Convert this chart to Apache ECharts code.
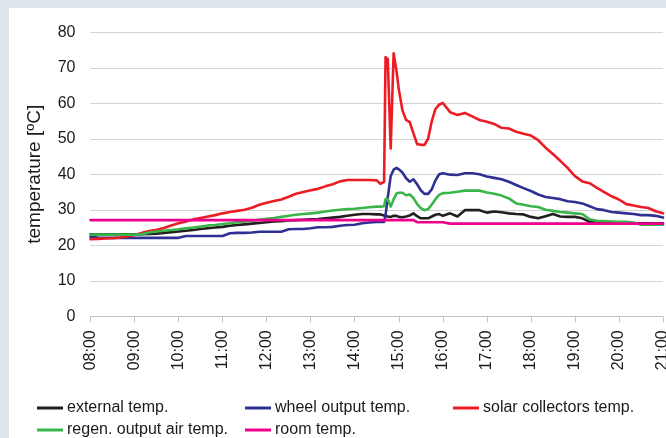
<!DOCTYPE html>
<html>
<head>
<meta charset="utf-8">
<script src="https://cdn.jsdelivr.net/npm/echarts@6/dist/echarts.min.js"></script>
<style>
html, body { margin: 0; padding: 0; background: #dde6ed; overflow: hidden; }
#chart { position: absolute; left: 9px; top: 8px; width: 690px; height: 430px; background: #fff; }
</style>
</head>
<body>
<div id="chart"></div>
<script>
// sample times (10 min, 5 min around the collector spike)
const times = [
  '08:00', '08:10', '08:20', '08:30', '08:40', '08:50',
  '09:00', '09:10', '09:20', '09:30', '09:40', '09:50',
  '10:00', '10:10', '10:20', '10:30', '10:40', '10:50',
  '11:00', '11:10', '11:20', '11:30', '11:40', '11:50',
  '12:00', '12:10', '12:20', '12:30', '12:40', '12:50',
  '13:00', '13:10', '13:20', '13:30', '13:40', '13:50',
  '14:00', '14:10', '14:20', '14:30',
  '14:35', '14:40', '14:42', '14:45', '14:49', '14:53', '14:57', '15:00', '15:05', '15:10',
  '15:15', '15:20', '15:25', '15:30', '15:35', '15:40', '15:45', '15:50', '15:55', '16:00',
  '16:10', '16:20', '16:30', '16:40', '16:50',
  '17:00', '17:10', '17:20', '17:30', '17:40', '17:50',
  '18:00', '18:10', '18:20', '18:30', '18:40', '18:50',
  '19:00', '19:10', '19:20', '19:30', '19:40', '19:50',
  '20:00', '20:10', '20:20', '20:30', '20:40', '20:50',
  '21:00'
];

const externalTemp = [
  23.1, 23.1, 23.1, 23.1, 23.1, 23.1,
  23.1, 23.1, 23.2, 23.3, 23.5, 23.7,
  23.9, 24.1, 24.3, 24.6, 24.8, 25.0,
  25.2, 25.5, 25.7, 25.9, 26.1, 26.3,
  26.5, 26.7, 26.8, 27.0, 27.1, 27.2,
  27.3, 27.4, 27.6, 27.8, 28.0, 28.3,
  28.6, 28.8, 28.8, 28.7,
  28.7, 28.4, 28.0, 28.1, 28.0, 28.3, 28.3, 28.0, 27.9, 28.1,
  28.4, 29.0, 28.2, 27.6, 27.6, 27.6, 28.1, 28.6, 28.8, 28.3,
  29.0, 28.1, 29.9, 29.9, 29.9,
  29.2, 29.5, 29.3, 29.0, 28.8, 28.7,
  28.0, 27.6, 28.2, 28.8, 28.1, 28.0,
  28.0, 27.6, 26.6, 26.3, 26.2, 26.2,
  26.2, 26.2, 26.2, 26.2, 26.2, 26.2,
  26.2
];

const wheelTemp = [
  22.4, 22.2, 22.1, 22.1, 22.1, 22.1,
  22.1, 22.1, 22.1, 22.1, 22.1, 22.1,
  22.1, 22.6, 22.6, 22.6, 22.6, 22.6,
  22.6, 23.4, 23.5, 23.5, 23.6, 23.8,
  23.8, 23.8, 23.8, 24.5, 24.6, 24.6,
  24.8, 25.1, 25.1, 25.2, 25.5, 25.7,
  25.8, 26.2, 26.4, 26.6,
  26.6, 26.6, 28.5, 33.5, 39.5, 41.3, 41.8, 41.4, 40.5, 38.9,
  37.9, 38.6, 37.2, 35.5, 34.5, 34.5, 35.8, 38.3, 40.0, 40.3,
  39.9, 39.8, 40.3, 40.3, 40.0,
  39.4, 39.0, 38.6, 37.9, 37.0, 36.1,
  35.3, 34.3, 33.6, 33.3, 33.0, 32.4,
  32.2, 31.8, 31.0, 30.2, 29.9, 29.4,
  29.2, 29.0, 28.8, 28.5, 28.5, 28.3,
  27.8
];

const solarTemp = [
  21.7, 21.8, 21.9, 22.0, 22.2, 22.5,
  22.9, 23.5, 24.0, 24.4, 24.9, 25.6,
  26.2, 26.7, 27.3, 27.7, 28.1, 28.5,
  29.0, 29.4, 29.7, 30.0, 30.6, 31.4,
  32.0, 32.5, 32.9, 33.7, 34.5, 35.0,
  35.5, 35.9, 36.6, 37.2, 38.0, 38.4,
  38.4, 38.4, 38.4, 38.3,
  37.3, 37.9, 73.0, 72.5, 47.3, 74.1, 69.0, 64.0, 58.0, 55.3,
  54.7, 51.5, 48.5, 48.3, 48.3, 50.0, 55.0, 58.4, 59.6, 60.1,
  57.5, 56.7, 57.3, 56.3, 55.3,
  54.8, 54.2, 53.1, 52.9, 52.0, 51.4,
  50.9, 49.6, 47.5, 45.7, 43.8, 41.8,
  39.5, 38.0, 37.5, 36.2, 35.0, 33.8,
  32.9, 31.6, 31.2, 30.8, 30.5, 29.6,
  29.0
];

const regenTemp = [
  23.0, 23.0, 23.0, 23.0, 23.0, 23.0,
  23.0, 23.1, 23.6, 23.9, 24.1, 24.3,
  24.5, 24.8, 25.0, 25.3, 25.6, 25.7,
  26.0, 26.2, 26.5, 26.7, 26.9, 27.2,
  27.5, 27.7, 28.0, 28.3, 28.6, 28.8,
  29.0, 29.2, 29.5, 29.8, 30.0, 30.2,
  30.3, 30.5, 30.7, 30.9,
  30.9, 31.0, 33.0, 33.0, 30.9, 33.0, 34.6, 34.8, 34.8, 34.1,
  34.3, 33.3, 31.6, 30.5, 29.9, 30.2, 31.5, 33.0, 34.2, 34.7,
  34.8, 35.1, 35.4, 35.4, 35.4,
  34.9, 34.5, 34.0, 33.2, 31.8, 31.4,
  31.0, 30.8, 30.0, 29.7, 29.4, 29.2,
  29.0, 28.8, 27.3, 26.9, 26.8, 26.7,
  26.6, 26.6, 26.4, 25.8, 25.8, 25.8,
  25.8
];

const roomTemp = [
  27.1, 27.1, 27.1, 27.1, 27.1, 27.1,
  27.1, 27.1, 27.1, 27.1, 27.1, 27.1,
  27.1, 27.1, 27.1, 27.1, 27.1, 27.1,
  27.1, 27.1, 27.1, 27.1, 27.1, 27.1,
  27.1, 27.1, 27.1, 27.1, 27.1, 27.1,
  27.1, 27.1, 27.1, 27.1, 27.1, 27.1,
  27.1, 27.1, 27.1, 27.1,
  27.1, 27.1, 27.1, 27.1, 27.1, 27.1, 27.1, 27.1, 27.1, 27.1,
  27.1, 27.1, 26.5, 26.5, 26.5, 26.5, 26.5, 26.5, 26.5, 26.5,
  26.1, 26.1, 26.1, 26.1, 26.1,
  26.1, 26.1, 26.1, 26.1, 26.1, 26.1,
  26.1, 26.1, 26.1, 26.1, 26.1, 26.1,
  26.1, 26.1, 26.1, 26.1, 26.1, 26.1,
  26.1, 26.1, 26.1, 26.1, 26.1, 26.1,
  26.1
];

const seriesNames = ['external temp.', 'wheel output temp.', 'solar collectors temp.', 'regen. output air temp.', 'room temp.'];
const seriesColors = ['#231f20', '#2e3192', '#ed1c24', '#39b54a', '#ec008c'];
const seriesValues = [externalTemp, wheelTemp, solarTemp, regenTemp, roomTemp];

const FONT = 'Liberation Sans, Arial, sans-serif';
const toHour = s => Number(s.slice(0, 2)) + Number(s.slice(3)) / 60;

const chart = echarts.init(document.getElementById('chart'));

// one legend per item so the two rows sit like the original
const legendPos = [[28, 392], [236, 392], [444, 392], [28, 414], [236, 414]];
const legends = seriesNames.map((name, i) => ({
  data: [name],
  left: legendPos[i][0],
  top: legendPos[i][1],
  padding: 0,
  icon: 'rect',
  itemWidth: 26,
  itemHeight: 3,
  textStyle: { fontFamily: FONT, fontSize: 16, color: '#1a1a1a', padding: [0, 0, 0, -1] }
}));

chart.setOption({
  animation: false,
  backgroundColor: '#fff',
  legend: legends,
  // the chart is wider than the window so the last time label is cut like the original
  grid: {
    left: 81.5,
    right: 36,
    top: 24.3,
    bottom: 121.7
  },
  xAxis: {
    type: 'value',
    min: 8,
    max: 21,
    interval: 1,
    axisLine: { lineStyle: { color: '#c4c4c4', width: 1 } },
    axisTick: { show: true, length: 6, lineStyle: { color: '#c4c4c4' } },
    splitLine: { show: false },
    axisLabel: {
      rotate: 90,
      margin: 14,
      showMaxLabel: true,
      fontFamily: FONT,
      fontSize: 16,
      color: '#1a1a1a',
      formatter: v => (v < 10 ? '0' : '') + v + ':00'
    }
  },
  yAxis: {
    type: 'value',
    min: 0,
    max: 80,
    interval: 10,
    name: 'temperature [ºC]',
    nameLocation: 'middle',
    nameGap: 46,
    nameTextStyle: { fontFamily: FONT, fontSize: 19, color: '#1a1a1a' },
    axisLine: { show: false },
    axisTick: { show: false },
    splitLine: { lineStyle: { color: '#d4d4d4', width: 1.2 } },
    axisLabel: { margin: 15, fontFamily: FONT, fontSize: 16, color: '#1a1a1a' }
  },
  series: seriesNames.map((name, i) => ({
    name: name,
    type: 'line',
    symbol: 'none',
    color: seriesColors[i],
    lineStyle: { width: 2.6, color: seriesColors[i], cap: 'round', join: 'round' },
    data: times.map((t, k) => [toHour(t), seriesValues[i][k]])
  }))
});
</script>
</body>
</html>
